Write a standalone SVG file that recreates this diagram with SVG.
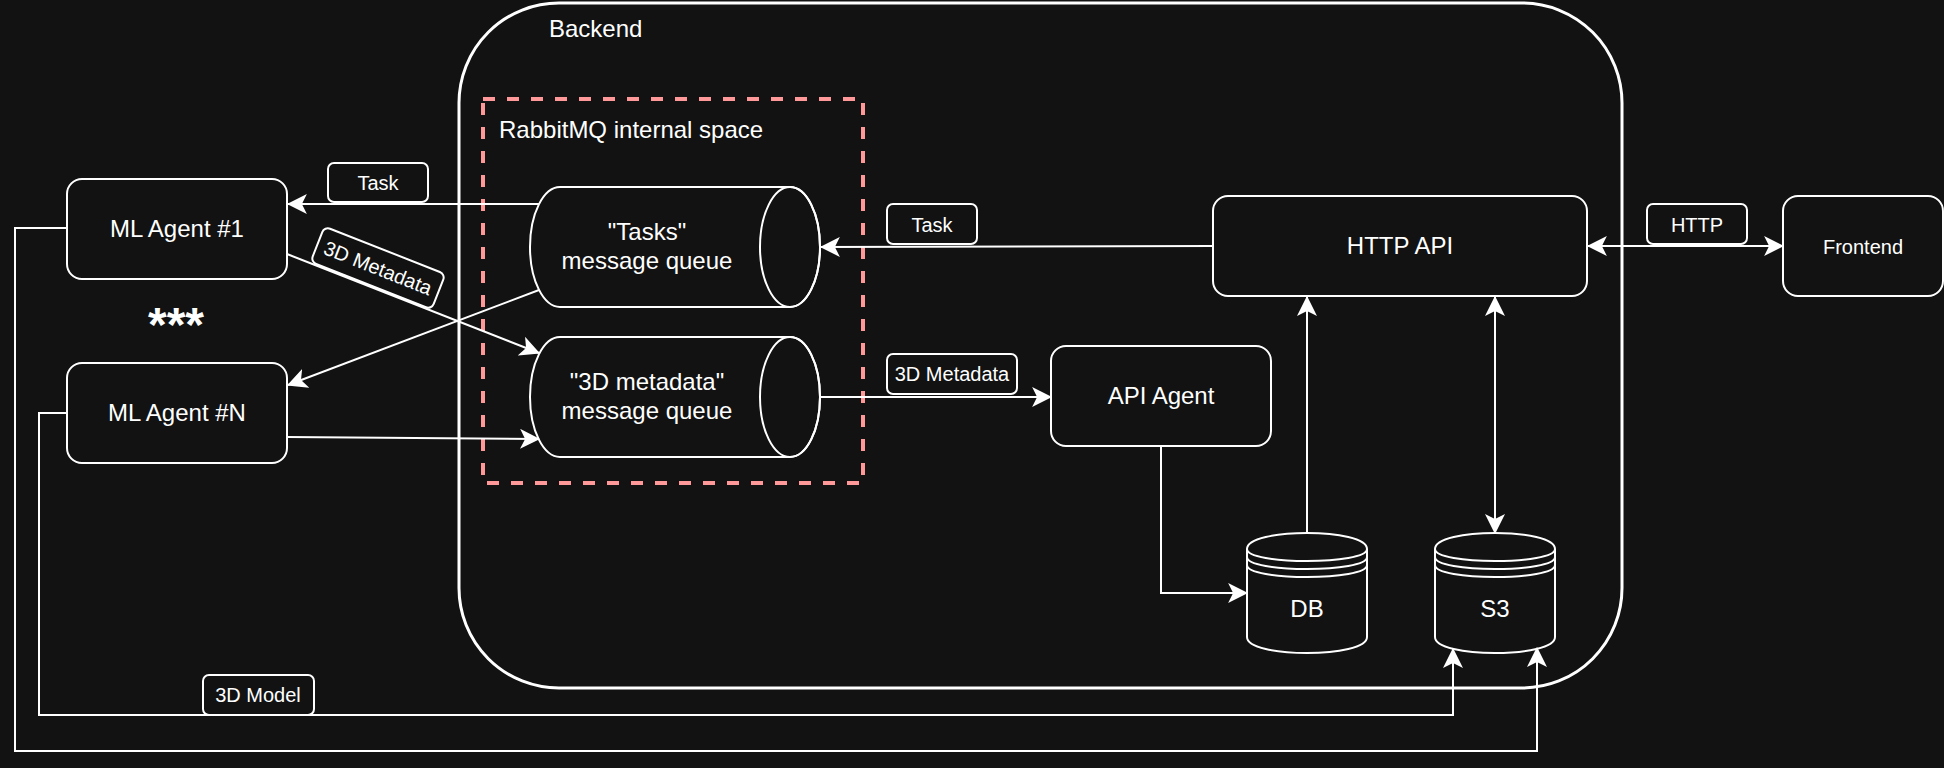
<svg xmlns="http://www.w3.org/2000/svg" width="1944" height="768" viewBox="0 0 1944 768">
<defs>
<style>
text{font-family:"Liberation Sans",Arial,Helvetica,sans-serif;fill:#ffffff}
.t24{font-size:24px}
.t20{font-size:20px}
.mid{text-anchor:middle}
.box{fill:#121212;stroke:#ffffff;stroke-width:2}
.edge{fill:none;stroke:#ffffff;stroke-width:2}
.lbl{fill:#121212;stroke:#ffffff;stroke-width:2}
</style>
<marker id="arr" markerUnits="userSpaceOnUse" markerWidth="20" markerHeight="20" viewBox="0 0 18 18" refX="17" refY="9" orient="auto-start-reverse">
<path d="M0,0 L18,9 L0,18 L4.5,9 Z" fill="#ffffff"/>
</marker>
</defs>
<rect x="0" y="0" width="1944" height="768" fill="#121212"/>

<g id="backend">
<rect x="459" y="3" width="1163" height="685" rx="100" ry="100" fill="none" stroke="#ffffff" stroke-width="3"/>
<text class="t24" x="549" y="37">Backend</text>
</g>

<g id="rabbitmq">
<rect x="483" y="99" width="380" height="384" fill="none" stroke="#ff9999" stroke-width="4" stroke-dasharray="12 12"/>
<text class="t24" x="499" y="138">RabbitMQ internal space</text>
</g>

<g id="tasks-queue">
<path class="box" d="M560,187 L790,187 A30,60 0 0 1 790,307 L560,307 A30,60 0 0 1 560,187 Z"/>
<ellipse cx="790" cy="247" rx="30" ry="60" fill="none" stroke="#ffffff" stroke-width="2"/>
<text class="t24 mid" x="647" y="240">"Tasks"</text>
<text class="t24 mid" x="647" y="269">message queue</text>
</g>

<g id="metadata-queue">
<path class="box" d="M560,337 L790,337 A30,60 0 0 1 790,457 L560,457 A30,60 0 0 1 560,337 Z"/>
<ellipse cx="790" cy="397" rx="30" ry="60" fill="none" stroke="#ffffff" stroke-width="2"/>
<text class="t24 mid" x="647" y="390">"3D metadata"</text>
<text class="t24 mid" x="647" y="419">message queue</text>
</g>

<g id="ml-agent-1">
<rect class="box" x="67" y="179" width="220" height="100" rx="15"/>
<text class="t24 mid" x="177" y="237">ML Agent #1</text>
</g>

<g id="ellipsis">
<text class="mid" x="176" y="341" style="font-size:48px;font-weight:bold">***</text>
</g>

<g id="ml-agent-n">
<rect class="box" x="67" y="363" width="220" height="100" rx="15"/>
<text class="t24 mid" x="177" y="421">ML Agent #N</text>
</g>

<g id="http-api">
<rect class="box" x="1213" y="196" width="374" height="100" rx="15"/>
<text class="t24 mid" x="1400" y="254">HTTP API</text>
</g>

<g id="api-agent">
<rect class="box" x="1051" y="346" width="220" height="100" rx="15"/>
<text class="t24 mid" x="1161" y="404">API Agent</text>
</g>

<g id="frontend">
<rect class="box" x="1783" y="196" width="160" height="100" rx="15"/>
<text class="t20 mid" x="1863" y="254">Frontend</text>
</g>

<g id="db">
<path class="box" d="M1247,549 C1247,527.67 1367,527.67 1367,549 L1367,637 C1367,658.33 1247,658.33 1247,637 Z"/>
<path class="edge" d="M1247,549 C1247,565 1367,565 1367,549 M1247,557 C1247,573 1367,573 1367,557 M1247,565 C1247,581 1367,581 1367,565"/>
<text class="t24 mid" x="1307" y="617">DB</text>
</g>

<g id="s3">
<path class="box" d="M1435,549 C1435,527.67 1555,527.67 1555,549 L1555,637 C1555,658.33 1435,658.33 1435,637 Z"/>
<path class="edge" d="M1435,549 C1435,565 1555,565 1555,549 M1435,557 C1435,573 1555,573 1555,557 M1435,565 C1435,581 1555,581 1555,565"/>
<text class="t24 mid" x="1495" y="617">S3</text>
</g>

<g id="connectors">
<path class="edge" d="M539,204 L288,204" marker-end="url(#arr)"/>
<path class="edge" d="M287,254 L539,353" marker-end="url(#arr)"/>
<path class="edge" d="M539,290 L288,385" marker-end="url(#arr)"/>
<path class="edge" d="M287,437 L539,439" marker-end="url(#arr)"/>
<path class="edge" d="M1213,246 L821,247" marker-end="url(#arr)"/>
<path class="edge" d="M821,397 L1051,397" marker-end="url(#arr)"/>
<path class="edge" d="M1161,446 L1161,593 L1247,593" marker-end="url(#arr)"/>
<path class="edge" d="M1307,533 L1307,297" marker-end="url(#arr)"/>
<path class="edge" d="M1495,297 L1495,533" marker-start="url(#arr)" marker-end="url(#arr)"/>
<path class="edge" d="M1588,246 L1783,246" marker-start="url(#arr)" marker-end="url(#arr)"/>
<path class="edge" d="M67,413 L39,413 L39,715 L1453,715 L1453,649" marker-end="url(#arr)"/>
<path class="edge" d="M67,228 L15,228 L15,751 L1537,751 L1537,648" marker-end="url(#arr)"/>

<g id="label-task-1">
<rect class="lbl" x="328" y="163" width="100" height="39" rx="6"/>
<text class="t20 mid" x="378" y="190">Task</text>
</g>
<g id="label-3d-metadata-1" transform="translate(378,268) rotate(21.5)">
<rect class="lbl" x="-65" y="-19" width="130" height="38" rx="6"/>
<text class="t20 mid" x="0" y="7">3D Metadata</text>
</g>
<g id="label-task-2">
<rect class="lbl" x="887" y="204" width="90" height="40" rx="6"/>
<text class="t20 mid" x="932" y="232">Task</text>
</g>
<g id="label-3d-metadata-2">
<rect class="lbl" x="887" y="354" width="130" height="40" rx="6"/>
<text class="t20 mid" x="952" y="381">3D Metadata</text>
</g>
<g id="label-http">
<rect class="lbl" x="1647" y="204" width="100" height="40" rx="6"/>
<text class="t20 mid" x="1697" y="232">HTTP</text>
</g>
<g id="label-3d-model">
<rect class="lbl" x="203" y="675" width="111" height="40" rx="6"/>
<text class="t20 mid" x="258" y="702">3D Model</text>
</g>
</g>
</svg>
